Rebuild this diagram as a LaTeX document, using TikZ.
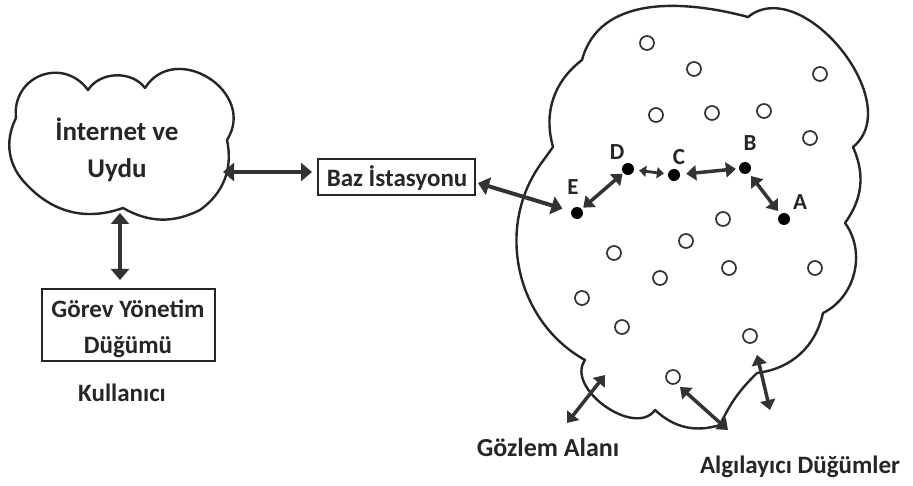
\documentclass[tikz,border=0pt]{standalone}
\usepackage{fontspec}
\setmainfont{Carlito}
\usetikzlibrary{arrows.meta}
\begin{document}
\begin{tikzpicture}[x=1pt,y=1pt,
  txt/.style={font=\fontsize{25}{36}\selectfont\bfseries, text=black!85, align=center, inner sep=0},
  bigtxt/.style={txt, font=\fontsize{27}{37}\selectfont\bfseries},
  lbl/.style={font=\fontsize{23}{24}\selectfont\bfseries, text=black!85, inner sep=0},
  boxed/.style={draw=black!85, line width=2pt, inner sep=0},
  cloudline/.style={line width=2.4pt, line join=round, draw=black!85},
  darr/.style={{Triangle[length=11pt,width=18pt]}-{Triangle[length=11pt,width=18pt]}, line width=4pt, draw=black!80},
  marr/.style={{Triangle[length=10pt,width=15pt]}-{Triangle[length=10pt,width=15pt]}, line width=3.5pt, draw=black!80},
  sarr/.style={{Triangle[length=7pt,width=11pt]}-{Triangle[length=7pt,width=11pt]}, line width=2.8pt, draw=black!80},
  dot/.style={circle, fill=black, inner sep=0, minimum size=12pt},
  ocirc/.style={circle, draw=black!80, line width=1.7pt, inner sep=0, minimum size=14pt},
]
\useasboundingbox (0,0) rectangle (913,-486);
\fill[white] (0,0) rectangle (913,-486);

% left cloud
\draw[cloudline] (16,-118) to[bend left=75, looseness=1.4] (88,-90)
  to[bend left=55, looseness=1.0] (145,-88)
  to[bend left=90, looseness=1.5] (227,-140)
  to[bend left=33] (200,-210)
  to[bend left=28] (123,-208)
  to[bend left=33] (27,-185)
  to[bend left=36] (16,-118) -- cycle;

% right cloud
\draw[cloudline] (582,-60) to[out=75, in=165] (748,-17)
  to[bend left=90, looseness=1.06] (853,-147)
  to[bend left=30] (845,-223)
  to[bend left=50] (823,-313)
  to[bend left=35] (757,-373)
  to[bend right=10] (720,-425)
  to[bend left=30] (655,-410)
  to[bend left=90, looseness=1.03] (585,-360)
  to[bend left=48] (540,-165)
  -- (553,-147)
  to[bend left=34] (582,-60) -- cycle;

% texts
\node[bigtxt] (inet) at (117,-150) {İnternet ve\\Uydu};
\node[boxed, minimum width=157pt, minimum height=36pt] (bs) at (396,-177) {};
\node[txt] (bst) at (397,-178) {Baz İstasyonu};
\node[boxed, minimum width=173pt, minimum height=72pt] (gy) at (128,-325) {};
\node[txt] (gyt) at (128,-329) {Görev Yönetim\\Düğümü};
\node[txt] (kul) at (122,-393) {Kullanıcı};
\node[txt, font=\fontsize{26}{36}\selectfont\bfseries] (goz) at (548,-447) {Gözlem Alanı};
\node[txt, font=\fontsize{25}{36}\selectfont\bfseries] (alg) at (800,-467) {Algılayıcı Düğümler};

% open sensor nodes
\foreach \i/\x/\y in {1/647/43, 2/694/69, 3/820/74, 4/656/115, 5/712/113, 6/764/111, 7/810/138,
  8/723/219, 9/686/241, 10/614/253, 11/729/268, 12/815/268, 13/660/278, 14/582/298,
  15/622/327, 16/750/336, 17/673/377}
  \node[ocirc] (s\i) at (\x,-\y) {};

% path nodes
\node[dot] (E) at (577,-213) {};
\node[dot] (D) at (628,-169) {};
\node[dot] (C) at (674,-175) {};
\node[dot] (B) at (745,-168) {};
\node[dot] (A) at (784,-219) {};
\node[lbl] (lE) at (573,-187) {E};
\node[lbl] (lD) at (617,-152) {D};
\node[lbl] (lC) at (679,-157) {C};
\node[lbl] (lB) at (750,-143) {B};
\node[lbl] (lA) at (800,-202) {A};

% connector end points
\coordinate (ia) at (223,-172);
\coordinate (ib) at (312,-172);
\coordinate (iv1) at (120,-213);
\coordinate (iv2) at (120,-280);
\coordinate (bsa) at (478,-183);
\coordinate (g1) at (567,-423);
\coordinate (g2) at (605,-375);
\coordinate (m1) at (680,-387);
\coordinate (m2) at (728,-430);
\coordinate (r1) at (757,-355);
\coordinate (r2) at (770,-410);

\draw[darr] (ia) -- (ib);
\draw[darr] (iv1) -- (iv2);
\draw[darr, shorten >=9pt] (bsa) -- (E);
\draw[marr, shorten <=2pt, shorten >=1pt] (E) -- (D);
\draw[sarr, shorten <=5pt, shorten >=4pt] (D) -- (C);
\draw[marr, shorten <=6pt, shorten >=3pt] (C) -- (B);
\draw[marr, shorten <=4pt, shorten >=4pt] (B) -- (A);
\draw[marr] (g1) -- (g2);
\draw[marr] (m1) -- (m2);
\draw[marr] (r1) -- (r2);
\end{tikzpicture}
\end{document}
